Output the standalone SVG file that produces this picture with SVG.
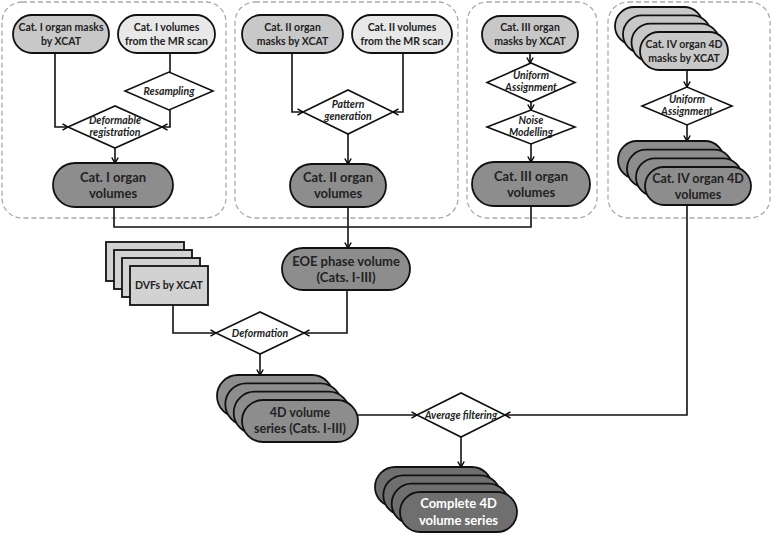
<svg xmlns="http://www.w3.org/2000/svg" width="773" height="534" viewBox="0 0 773 534">
<defs>
<marker id="arr" markerWidth="8" markerHeight="8" refX="6.5" refY="4" orient="auto" markerUnits="userSpaceOnUse">
<path d="M1,0.8 L6.5,4 L1,7.2" fill="none" stroke="#000" stroke-width="1.4"/>
</marker>
</defs>
<style>
.grp{fill:none;stroke:#aaaaaa;stroke-width:1.3;stroke-dasharray:5,3}
.nd{stroke:#111;stroke-width:1.8}
.light{fill:#e8e8e8}
.mid{fill:#c8c8c8}
.dvf{fill:#d2d2d2}
.dark{fill:#8d8d8d}
.darker{fill:#6f6f6f}
.dia{fill:#fff;stroke:#111;stroke-width:1.6}
.t{font-family:Lato,"Open Sans","DejaVu Sans",sans-serif;font-weight:bold;text-anchor:middle;fill:#222}
.s{font-size:10.5px}
.b{font-size:13px}
.m{font-size:12.5px}
.i{font-family:Lato,"Open Sans","DejaVu Sans",sans-serif;font-weight:bold;font-style:italic;font-size:10.5px;text-anchor:middle;fill:#222}
.w{fill:#fff}
.c{fill:none;stroke:#111;stroke-width:1.6}
</style>
<rect width="773" height="534" fill="#fff"/>
<g id="groups">
<rect class="grp" x="2" y="2" width="224" height="216" rx="20"/>
<rect class="grp" x="235" y="2" width="223" height="216" rx="20"/>
<rect class="grp" x="467" y="2" width="130" height="216" rx="20"/>
<rect class="grp" x="608" y="2" width="162" height="216" rx="20"/>
</g>
<g id="connectors">
<path class="c" d="M55,53 V127 H68" marker-end="url(#arr)"/>
<path class="c" d="M170,53 V72"/>
<path class="c" d="M170,110 V127 H162" marker-end="url(#arr)"/>
<path class="c" d="M115,148 V163" marker-end="url(#arr)"/>
<path class="c" d="M292,53 V112 H303" marker-end="url(#arr)"/>
<path class="c" d="M403,53 V112 H393" marker-end="url(#arr)"/>
<path class="c" d="M348,134 V164" marker-end="url(#arr)"/>
<path class="c" d="M530,53 V63" marker-end="url(#arr)"/>
<path class="c" d="M531,102 V110" marker-end="url(#arr)"/>
<path class="c" d="M531,144 V162" marker-end="url(#arr)"/>
<path class="c" d="M687,70 V87" marker-end="url(#arr)"/>
<path class="c" d="M687,125 V141" marker-end="url(#arr)"/>
<path class="c" d="M114,207 V227 H531 V206"/>
<path class="c" d="M348,207 V248" marker-end="url(#arr)"/>
<path class="c" d="M173,305 V333 H216" marker-end="url(#arr)"/>
<path class="c" d="M347,290 V333 H304" marker-end="url(#arr)"/>
<path class="c" d="M260,354 V375" marker-end="url(#arr)"/>
<path class="c" d="M358,415 H417" marker-end="url(#arr)"/>
<path class="c" d="M687,205 V415 H505" marker-end="url(#arr)"/>
<path class="c" d="M461,437 V467" marker-end="url(#arr)"/>
</g>
<g id="n1">
<rect class="nd mid" x="13" y="15" width="96" height="38" rx="19"/>
<text class="t s" x="61" y="31">Cat. I organ masks</text>
<text class="t s" x="61" y="45">by XCAT</text>
</g>
<g id="n2">
<rect class="nd light" x="118" y="15" width="97" height="38" rx="19"/>
<text class="t s" x="166.5" y="31">Cat. I volumes</text>
<text class="t s" x="166.5" y="45">from the MR scan</text>
</g>
<g id="d1">
<polygon class="dia" points="125,91 169,72 213,91 169,110"/>
<text class="i" x="169" y="94.5">Resampling</text>
</g>
<g id="d2">
<polygon class="dia" points="68,127 115,106 162,127 115,148"/>
<text class="i" x="115" y="124">Deformable</text>
<text class="i" x="115" y="136">registration</text>
</g>
<g id="n3">
<rect class="nd dark" x="53" y="163" width="120" height="44" rx="22"/>
<text class="t b" x="113" y="182">Cat. I organ</text>
<text class="t b" x="113" y="198">volumes</text>
</g>
<g id="n4">
<rect class="nd mid" x="242" y="15" width="101" height="38" rx="19"/>
<text class="t s" x="292.5" y="31">Cat. II organ</text>
<text class="t s" x="292.5" y="45">masks by XCAT</text>
</g>
<g id="n5">
<rect class="nd light" x="352" y="15" width="100" height="38" rx="19"/>
<text class="t s" x="402" y="31">Cat. II volumes</text>
<text class="t s" x="402" y="45">from the MR scan</text>
</g>
<g id="d3">
<polygon class="dia" points="303,112 348,90 393,112 348,134"/>
<text class="i" x="348" y="108">Pattern</text>
<text class="i" x="348" y="120">generation</text>
</g>
<g id="n6">
<rect class="nd dark" x="290" y="164" width="96" height="43" rx="21.5"/>
<text class="t b" x="338" y="182">Cat. II organ</text>
<text class="t b" x="338" y="198">volumes</text>
</g>
<g id="n7">
<rect class="nd mid" x="482" y="16" width="96" height="37" rx="18.5"/>
<text class="t s" x="530" y="31">Cat. III organ</text>
<text class="t s" x="530" y="45">masks by XCAT</text>
</g>
<g id="d4">
<polygon class="dia" points="487,82.5 531,63 575,82.5 531,102"/>
<text class="i" x="531" y="79">Uniform</text>
<text class="i" x="531" y="91">Assignment</text>
</g>
<g id="d5">
<polygon class="dia" points="487,127 531,110 575,127 531,144"/>
<text class="i" x="531" y="123.5">Noise</text>
<text class="i" x="531" y="135.5">Modelling</text>
</g>
<g id="n8">
<rect class="nd dark" x="472" y="162" width="118" height="44" rx="22"/>
<text class="t b" x="531" y="181">Cat. III organ</text>
<text class="t b" x="531" y="197">volumes</text>
</g>
<g id="n9">
<rect class="nd mid" x="615" y="7" width="88" height="38" rx="19"/>
<rect class="nd mid" x="623" y="15.3" width="88" height="38" rx="19"/>
<rect class="nd mid" x="631.5" y="23.6" width="88" height="38" rx="19"/>
<rect class="nd mid" x="640" y="32" width="88" height="38" rx="19"/>
<text class="t s" x="684" y="48">Cat. IV organ 4D</text>
<text class="t s" x="684" y="62">masks by XCAT</text>
</g>
<g id="d6">
<polygon class="dia" points="642,106 687,87 732,106 687,125"/>
<text class="i" x="687" y="102.5">Uniform</text>
<text class="i" x="687" y="114.5">Assignment</text>
</g>
<g id="n10">
<rect class="nd dark" x="618" y="141" width="106" height="38" rx="19"/>
<rect class="nd dark" x="627" y="149.7" width="106" height="38" rx="19"/>
<rect class="nd dark" x="636" y="158.3" width="106" height="38" rx="19"/>
<rect class="nd dark" x="645" y="167" width="106" height="38" rx="19"/>
<text class="t m" x="698" y="183">Cat. IV organ 4D</text>
<text class="t m" x="698" y="199">volumes</text>
</g>
<g id="n11">
<rect class="nd dark" x="282" y="248" width="128" height="42" rx="21"/>
<text class="t b" x="346" y="266">EOE phase volume</text>
<text class="t b" x="346" y="282">(Cats. I-III)</text>
</g>
<g id="n12">
<rect class="nd dvf" x="106" y="242" width="78" height="39"/>
<rect class="nd dvf" x="114" y="250" width="78" height="39"/>
<rect class="nd dvf" x="122" y="258" width="78" height="39"/>
<rect class="nd dvf" x="130" y="266" width="78" height="39"/>
<text class="t s" x="169" y="289">DVFs by XCAT</text>
</g>
<g id="d7">
<polygon class="dia" points="216,333 260,312 304,333 260,354"/>
<text class="i" x="260" y="336.5">Deformation</text>
</g>
<g id="n13">
<rect class="nd dark" x="217" y="375" width="116" height="42" rx="21"/>
<rect class="nd dark" x="225.3" y="383.3" width="116" height="42" rx="21"/>
<rect class="nd dark" x="233.7" y="391.7" width="116" height="42" rx="21"/>
<rect class="nd dark" x="242" y="400" width="116" height="42" rx="21"/>
<text class="t m" x="300" y="417">4D  volume</text>
<text class="t m" x="300" y="433">series (Cats. I-III)</text>
</g>
<g id="d8">
<polygon class="dia" points="417,415 461,393 505,415 461,437"/>
<text class="i" x="461" y="418.5">Average filtering</text>
</g>
<g id="n14">
<rect class="nd darker" x="375" y="467" width="117" height="40" rx="20"/>
<rect class="nd darker" x="383.3" y="475.3" width="117" height="40" rx="20"/>
<rect class="nd darker" x="391.7" y="483.7" width="117" height="40" rx="20"/>
<rect class="nd darker" x="400" y="492" width="117" height="40" rx="20"/>
<text class="t b w" x="458.5" y="508">Complete 4D</text>
<text class="t b w" x="458.5" y="525">volume series</text>
</g>
</svg>
